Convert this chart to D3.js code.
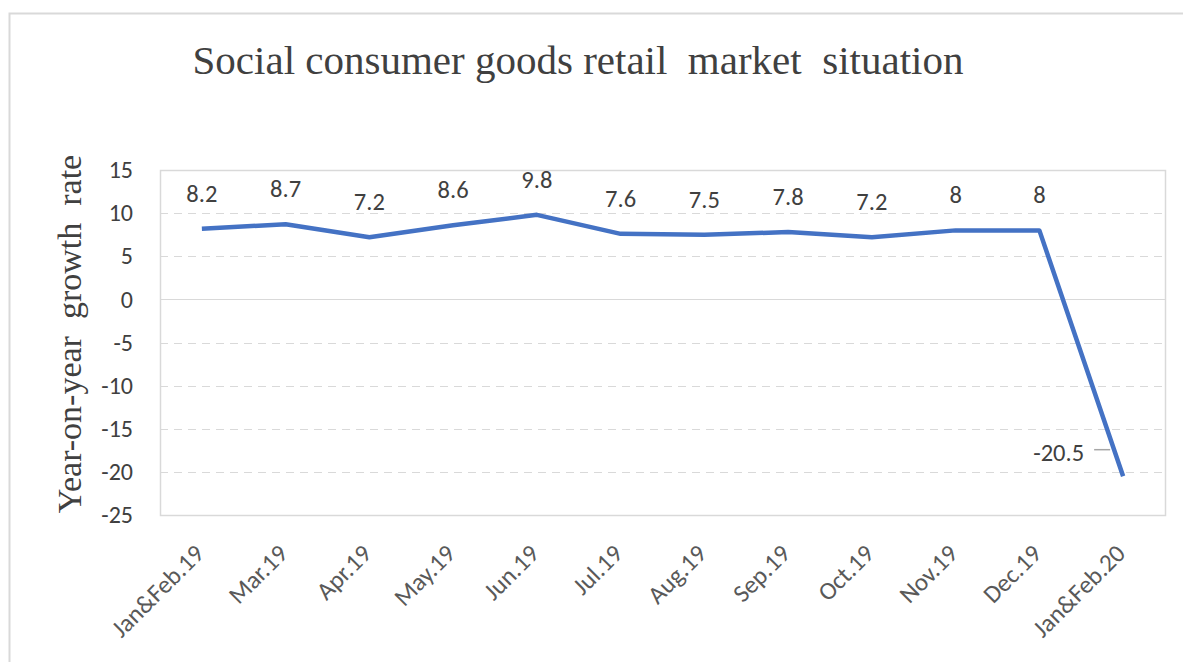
<!DOCTYPE html>
<html>
<head>
<meta charset="utf-8">
<script src="https://cdn.jsdelivr.net/npm/d3@7"></script>
<style>
  body { margin: 0; background: #fff; }
  svg { display: block; }
</style>
</head>
<body>
<div id="chart"></div>
<script>
// chart data
var months = ["Jan&Feb.19", "Mar.19", "Apr.19", "May.19", "Jun.19", "Jul.19",
              "Aug.19", "Sep.19", "Oct.19", "Nov.19", "Dec.19", "Jan&Feb.20"];
var growth = [8.2, 8.7, 7.2, 8.6, 9.8, 7.6, 7.5, 7.8, 7.2, 8, 8, -20.5];
var yTicks = [15, 10, 5, 0, -5, -10, -15, -20, -25];

var svgWidth = 1183;
var svgHeight = 662;

var margin = {top: 170, right: 18, bottom: 147, left: 160};
var chartWidth = svgWidth - margin.left - margin.right;
var chartHeight = svgHeight - margin.top - margin.bottom;

var labelFont = "Carlito, Lato, 'Open Sans', sans-serif";

var svg = d3.select("#chart").append("svg")
    .attr("width", svgWidth)
    .attr("height", svgHeight);

// outer frame (only top/left are visible in the picture)
svg.append("rect")
    .attr("x", 9.5).attr("y", 13.5)
    .attr("width", svgWidth + 20).attr("height", svgHeight + 20)
    .attr("fill", "none")
    .attr("stroke", "#d9d9d9")
    .attr("stroke-width", 2);

var chartGroup = svg.append("g")
    .attr("transform", `translate(${margin.left}, ${margin.top})`);

var xScale = d3.scalePoint()
    .domain(months)
    .range([0, chartWidth])
    .padding(0.5);

var yScale = d3.scaleLinear()
    .domain([-25, 15])
    .range([chartHeight, 0]);

// gridlines
chartGroup.selectAll(".grid")
    .data(yTicks.filter(d => d !== 15 && d !== -25))
    .enter()
    .append("line")
    .attr("x1", 0)
    .attr("x2", chartWidth)
    .attr("y1", d => Math.round(yScale(d)) + 0.5)
    .attr("y2", d => Math.round(yScale(d)) + 0.5)
    .attr("stroke", "#d9d9d9")
    .attr("stroke-width", 1)
    .attr("stroke-dasharray", d => d === 0 ? null : "8,6");

// plot area border
chartGroup.append("rect")
    .attr("x", 0.5).attr("y", 0.5)
    .attr("width", chartWidth).attr("height", chartHeight)
    .attr("fill", "none")
    .attr("stroke", "#d9d9d9")
    .attr("stroke-width", 1.5);

// y axis labels
var leftAxis = d3.axisLeft(yScale)
    .tickValues(yTicks)
    .tickFormat(d => String(d))
    .tickSize(0)
    .tickPadding(27);
var yAxis = chartGroup.append("g").call(leftAxis);
yAxis.select(".domain").remove();
yAxis.selectAll("text")
    .attr("fill", "#404040")
    .style("font-family", labelFont)
    .style("font-size", "24px");

// x axis labels
var bottomAxis = d3.axisBottom(xScale).tickSize(0).tickPadding(0);
var xAxis = chartGroup.append("g")
    .attr("transform", `translate(0, ${chartHeight})`)
    .call(bottomAxis);
xAxis.select(".domain").remove();
xAxis.selectAll("text")
    .attr("fill", "#595959")
    .style("font-family", labelFont)
    .style("font-size", "25px")
    .attr("text-anchor", "end")
    .attr("dy", null)
    .attr("transform", "translate(3, 40) rotate(-45)");

// the line
var line = d3.line()
    .x((d, i) => xScale(months[i]))
    .y(d => yScale(d));

chartGroup.append("path")
    .datum(growth)
    .attr("d", line)
    .attr("fill", "none")
    .attr("stroke", "#4472C4")
    .attr("stroke-width", 4.5)
    .attr("stroke-linejoin", "round");

// data labels
var last = growth.length - 1;
chartGroup.selectAll(".label")
    .data(growth)
    .enter()
    .append("text")
    .classed("label", true)
    .attr("x", (d, i) => i === last ? xScale(months[i]) - 39 : xScale(months[i]))
    .attr("y", (d, i) => i === last ? yScale(d) - 15 : yScale(d) - 27)
    .attr("text-anchor", (d, i) => i === last ? "end" : "middle")
    .attr("fill", "#404040")
    .style("font-family", labelFont)
    .style("font-size", "24.5px")
    .text(d => d);

// leader line for last label
chartGroup.append("line")
    .attr("x1", xScale(months[last]) - 29)
    .attr("x2", xScale(months[last]) - 13)
    .attr("y1", yScale(growth[last]) - 26.5)
    .attr("y2", yScale(growth[last]) - 26.5)
    .attr("stroke", "#a6a6a6")
    .attr("stroke-width", 1.5);

// title
svg.append("text")
    .attr("x", 578)
    .attr("y", 74)
    .attr("text-anchor", "middle")
    .attr("fill", "#404040")
    .style("font-family", "'Liberation Serif', serif")
    .style("font-size", "41px")
    .style("white-space", "pre")
    .text("Social consumer goods retail  market  situation");

// y axis title
svg.append("text")
    .attr("transform", "translate(81, 334) rotate(-90)")
    .attr("text-anchor", "middle")
    .attr("fill", "#404040")
    .style("font-family", "'Liberation Serif', serif")
    .style("font-size", "34px")
    .style("white-space", "pre")
    .text("Year-on-year  growth  rate");
</script>
</body>
</html>
